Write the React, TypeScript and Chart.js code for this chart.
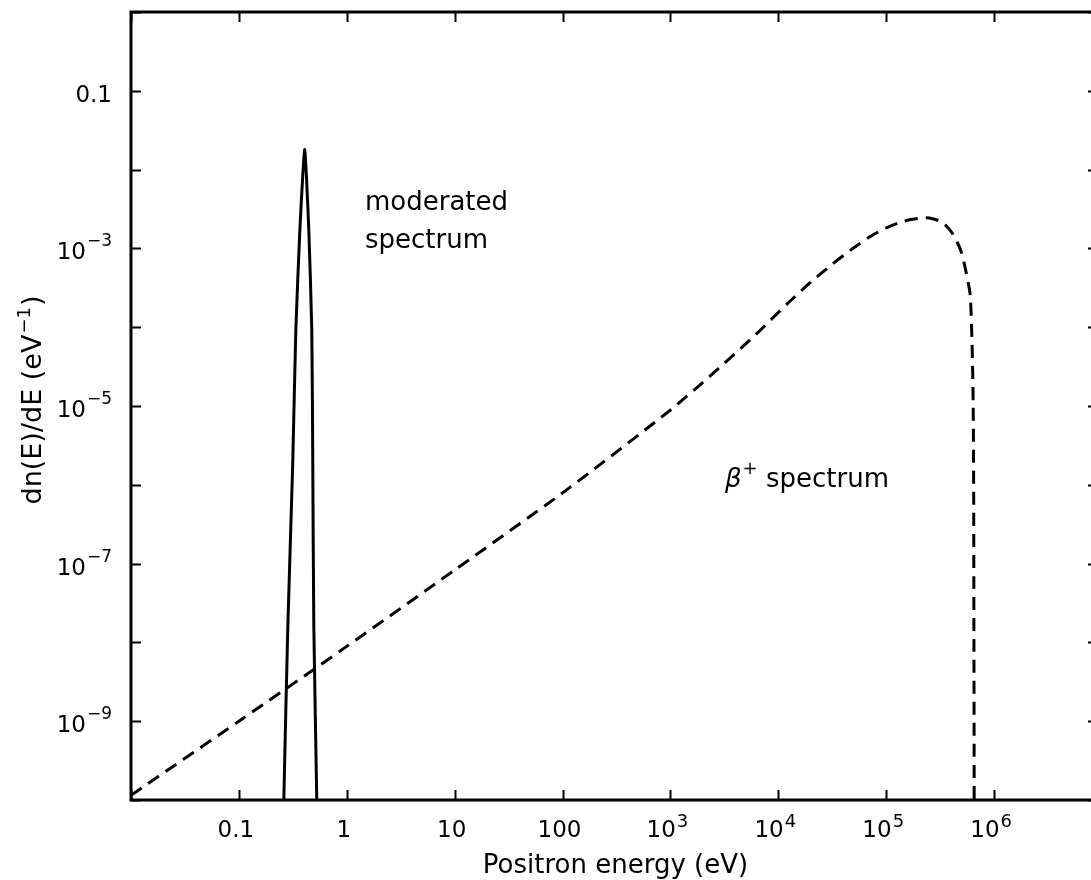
import React, { useEffect, useRef } from "react";
import { Chart, registerables } from "chart.js";

Chart.register(...registerables);

// ---- data ----
const moderatedEnergy = [0.255, 0.261, 0.284, 0.316, 0.337, 0.367, 0.39, 0.408, 0.425, 0.445, 0.474, 0.484, 0.495, 0.527, 0.535];
const moderatedFlux = [1e-11, 1e-10, 1.55e-8, 2.0e-6, 9.1e-5, 1.66e-3, 8.0e-3, 1.8e-2, 7.0e-3, 1.66e-3, 9.1e-5, 1.9e-6, 1.55e-8, 1e-10, 1e-11];

const betaEnergy = [0.01, 0.1, 1, 10, 100, 1000, 2510, 6310, 12590, 19950, 31620, 50120, 70800, 100000, 141000, 200000, 251000, 331000, 407000, 490000, 550000, 603000, 640000, 650000, 655000];
const betaFlux = [1.15e-10, 1.0e-9, 8.9e-9, 8.3e-8, 7.9e-7, 8.9e-6, 2.63e-5, 8.3e-5, 2.09e-4, 3.72e-4, 6.3e-4, 1.02e-3, 1.41e-3, 1.82e-3, 2.19e-3, 2.4e-3, 2.43e-3, 2.14e-3, 1.58e-3, 9.5e-4, 5.0e-4, 2.4e-4, 1e-5, 1e-8, 1e-11];

const xDecades = [0.01, 0.1, 1, 10, 100, 1e3, 1e4, 1e5, 1e6, 1e7];
const yDecades = [1e-10, 1e-9, 1e-8, 1e-7, 1e-6, 1e-5, 1e-4, 1e-3, 1e-2, 1e-1, 1];

const xTickValues = [0.1, 1, 10, 100, 1e3, 1e4, 1e5, 1e6];
const xTickMain = ["0.1", "1", "10", "100", "10", "10", "10", "10"];
const xTickSup = ["", "", "", "", "3", "4", "5", "6"];

const yTickValues = [1e-1, 1e-3, 1e-5, 1e-7, 1e-9];
const yTickMain = ["0.1", "10", "10", "10", "10"];
const yTickSup = ["", "\u22123", "\u22125", "\u22127", "\u22129"];

const xTitle = "Positron energy (eV)";
const yTitleMain = "dn(E)/dE (eV";
const yTitleSup = "\u22121";
const yTitleEnd = ")";
const noteModerated = ["moderated", "spectrum"];
const noteBeta = ["\u03b2", "+", " spectrum"];

const FONT = '"DejaVu Sans", sans-serif';

const framePlugin = {
  id: "frameAndLabels",
  afterDraw(chart: any) {
    const ctx = chart.ctx as CanvasRenderingContext2D;
    const { left, right, top, bottom } = chart.chartArea;
    const xs = chart.scales.x;
    const ys = chart.scales.y;
    ctx.save();
    ctx.strokeStyle = "#000";
    ctx.fillStyle = "#000";
    // frame
    ctx.lineWidth = 3;
    ctx.strokeRect(left, top, right - left, bottom - top);
    // ticks
    ctx.lineWidth = 2;
    const tl = 10;
    ctx.beginPath();
    for (const v of xDecades) {
      const px = Math.round(xs.getPixelForValue(v)) + 0.5;
      ctx.moveTo(px, bottom);
      ctx.lineTo(px, bottom - tl);
      ctx.moveTo(px, top);
      ctx.lineTo(px, top + tl);
    }
    for (const v of yDecades) {
      const py = Math.round(ys.getPixelForValue(v)) + 0.5;
      ctx.moveTo(left, py);
      ctx.lineTo(left + tl, py);
      ctx.moveTo(right, py);
      ctx.lineTo(right - 14, py);
    }
    ctx.stroke();

    // x tick labels
    ctx.textBaseline = "alphabetic";
    xTickValues.forEach((v, i) => {
      const px = xs.getPixelForValue(v) - 3;
      ctx.font = `23px ${FONT}`;
      const mw = ctx.measureText(xTickMain[i]).width;
      ctx.font = `18px ${FONT}`;
      const sw = xTickSup[i] ? ctx.measureText(xTickSup[i]).width + 1 : 0;
      const start = px - (mw + sw) / 2;
      ctx.font = `23px ${FONT}`;
      ctx.textAlign = "left";
      ctx.fillText(xTickMain[i], start, bottom + 37);
      if (xTickSup[i]) {
        ctx.font = `18px ${FONT}`;
        ctx.fillText(xTickSup[i], start + mw + 1, bottom + 27);
      }
    });

    // y tick labels
    yTickValues.forEach((v, i) => {
      const py = ys.getPixelForValue(v);
      const rightEdge = left - 19;
      ctx.textAlign = "left";
      ctx.font = `17px ${FONT}`;
      const sw = yTickSup[i] ? ctx.measureText(yTickSup[i]).width + 1 : 0;
      ctx.font = `23px ${FONT}`;
      const mw = ctx.measureText(yTickMain[i]).width;
      const start = rightEdge - sw - mw;
      ctx.fillText(yTickMain[i], start, py + 11);
      if (yTickSup[i]) {
        ctx.font = `17px ${FONT}`;
        ctx.fillText(yTickSup[i], start + mw + 1, py - 2);
      }
    });

    // x title
    ctx.font = `26px ${FONT}`;
    ctx.textAlign = "center";
    ctx.fillText(xTitle, (left + right) / 2 - 1, bottom + 73);

    // y title (rotated)
    ctx.save();
    ctx.translate(41, (top + bottom) / 2 - 6);
    ctx.rotate(-Math.PI / 2);
    ctx.textAlign = "left";
    ctx.font = `27px ${FONT}`;
    const w1 = ctx.measureText(yTitleMain).width;
    const w3 = ctx.measureText(yTitleEnd).width;
    ctx.font = `18px ${FONT}`;
    const w2 = ctx.measureText(yTitleSup).width;
    const total = w1 + w2 + w3 + 2;
    const x0 = -total / 2;
    ctx.font = `27px ${FONT}`;
    ctx.fillText(yTitleMain, x0, 0);
    ctx.font = `18px ${FONT}`;
    ctx.fillText(yTitleSup, x0 + w1 + 1, -11);
    ctx.font = `27px ${FONT}`;
    ctx.fillText(yTitleEnd, x0 + w1 + w2 + 2, 0);
    ctx.restore();

    // annotations
    ctx.textAlign = "left";
    ctx.font = `26px ${FONT}`;
    ctx.fillText(noteModerated[0], 365, 210);
    ctx.fillText(noteModerated[1], 365, 248);

    ctx.font = `italic 26px ${FONT}`;
    const bw = ctx.measureText(noteBeta[0]).width;
    ctx.font = `18px ${FONT}`;
    const pw = ctx.measureText(noteBeta[1]).width;
    ctx.font = `26px ${FONT}`;
    const sp = ctx.measureText(noteBeta[2]).width;
    const end = 889;
    const bx = end - sp - pw - bw - 1;
    ctx.font = `italic 26px ${FONT}`;
    ctx.fillText(noteBeta[0], bx, 487);
    ctx.font = `18px ${FONT}`;
    ctx.fillText(noteBeta[1], bx + bw + 1, 474);
    ctx.font = `26px ${FONT}`;
    ctx.fillText(noteBeta[2], bx + bw + pw + 1, 487);

    ctx.restore();
  },
};

export default function App() {
  const ref = useRef<HTMLCanvasElement | null>(null);
  useEffect(() => {
    if (!ref.current) return;
    const chart = new Chart(ref.current, {
      type: "scatter",
      data: {
        datasets: [
          {
            label: "moderated spectrum",
            data: moderatedEnergy.map((e, i) => ({ x: e, y: moderatedFlux[i] })),
            showLine: true,
            borderColor: "#000",
            borderWidth: 3,
            pointRadius: 0,
            tension: 0.2,
          },
          {
            label: "beta+ spectrum",
            data: betaEnergy.map((e, i) => ({ x: e, y: betaFlux[i] })),
            showLine: true,
            borderColor: "#000",
            borderWidth: 3,
            borderDash: [13, 8],
            pointRadius: 0,
            tension: 0.25,
          },
        ],
      },
      options: {
        responsive: false,
        animation: false,
        devicePixelRatio: 1,
        layout: { padding: { left: 131, top: 12, right: 8, bottom: 80 } },
        plugins: { legend: { display: false }, tooltip: { enabled: false } },
        scales: {
          x: { type: "logarithmic", min: 0.01, max: 1e7, display: false },
          y: { type: "logarithmic", min: 1e-10, max: 1, display: false },
        },
      },
      plugins: [framePlugin],
    });
    return () => chart.destroy();
  }, []);
  return (
    <div style={{ position: "fixed", left: 0, top: 0, width: "1091px", height: "880px", overflow: "hidden", background: "#fff" }}>
      <canvas ref={ref} width={1110} height={880} style={{ display: "block" }} />
    </div>
  );
}
